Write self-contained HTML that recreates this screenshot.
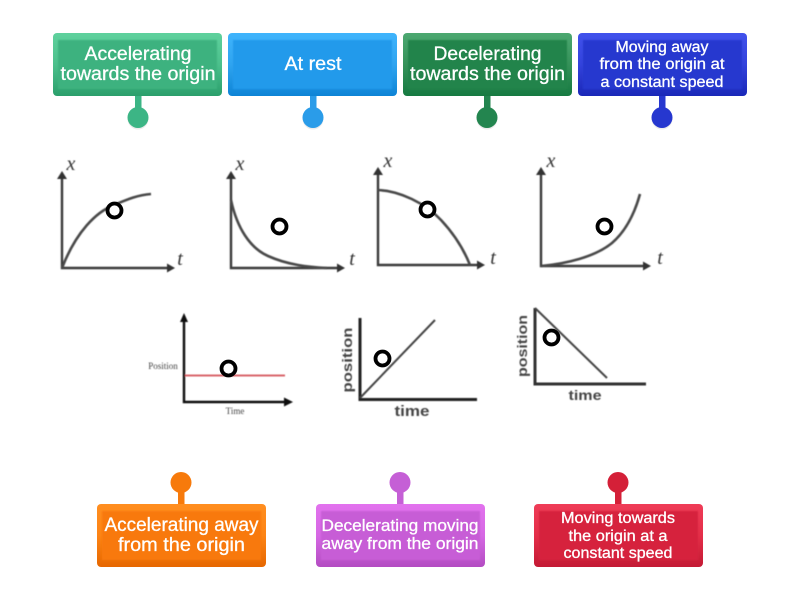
<!DOCTYPE html>
<html>
<head>
<meta charset="utf-8">
<style>
html,body{margin:0;padding:0;background:#fff;width:800px;height:600px;overflow:hidden}
svg{display:block}
.l{font-family:"Liberation Sans",sans-serif;fill:#fff;stroke:#fff;stroke-width:.3;text-anchor:middle}
.a{fill:none;stroke:#3a3a3a;stroke-width:2.400}
.c{fill:none;stroke:#4a4a4a;stroke-width:2.600}
.i{font-family:"Liberation Serif",serif;font-style:italic;font-size:20px;fill:#333;text-anchor:middle}
.m{fill:#fff;stroke:#000;stroke-width:3.800}
.k{font-family:"Liberation Sans",sans-serif;font-weight:bold;fill:#444;text-anchor:middle}
</style>
</head>
<body>
<svg width="800" height="600" viewBox="0 0 800 600" xmlns="http://www.w3.org/2000/svg">
<defs>
<filter id="b" x="-10%" y="-10%" width="120%" height="120%"><feGaussianBlur stdDeviation="0.55"/></filter>
<filter id="p" x="-5%" y="-10%" width="110%" height="120%"><feGaussianBlur stdDeviation="0.7"/></filter>
<filter id="t" x="-5%" y="-20%" width="110%" height="140%"><feGaussianBlur stdDeviation="0.25"/></filter>
<linearGradient id="g1o" x1="0" y1="0" x2="0" y2="1"><stop offset="0" stop-color="#5fd19d"/><stop offset=".5" stop-color="#4cc08c"/><stop offset="1" stop-color="#2b9f6c"/></linearGradient>
<linearGradient id="g2o" x1="0" y1="0" x2="0" y2="1"><stop offset="0" stop-color="#3fb4fc"/><stop offset=".5" stop-color="#2fa4f0"/><stop offset="1" stop-color="#0d84d6"/></linearGradient>
<linearGradient id="g3o" x1="0" y1="0" x2="0" y2="1"><stop offset="0" stop-color="#4ca871"/><stop offset=".5" stop-color="#359259"/><stop offset="1" stop-color="#167a41"/></linearGradient>
<linearGradient id="g4o" x1="0" y1="0" x2="0" y2="1"><stop offset="0" stop-color="#4152ec"/><stop offset=".5" stop-color="#3343dc"/><stop offset="1" stop-color="#1a28b8"/></linearGradient>
<linearGradient id="g5o" x1="0" y1="0" x2="0" y2="1"><stop offset="0" stop-color="#ff8e20"/><stop offset=".5" stop-color="#fd8415"/><stop offset="1" stop-color="#e66700"/></linearGradient>
<linearGradient id="g6o" x1="0" y1="0" x2="0" y2="1"><stop offset="0" stop-color="#e272ee"/><stop offset=".5" stop-color="#d668e4"/><stop offset="1" stop-color="#b34cc2"/></linearGradient>
<linearGradient id="g7o" x1="0" y1="0" x2="0" y2="1"><stop offset="0" stop-color="#ef3c57"/><stop offset=".5" stop-color="#e42e49"/><stop offset="1" stop-color="#c41a34"/></linearGradient>
</defs>

<!-- top pins -->
<circle cx="138" cy="119" r="10.500" fill="#ececec"/>
<circle cx="313" cy="119" r="10.500" fill="#ececec"/>
<circle cx="487" cy="119" r="10.500" fill="#ececec"/>
<circle cx="662" cy="119" r="10.500" fill="#ececec"/>
<rect x="135" y="94" width="6.500" height="16" fill="#3cb585"/><circle cx="138" cy="117.500" r="10.500" fill="#3cb585"/>
<rect x="310" y="94" width="6.500" height="16" fill="#2a9ce9"/><circle cx="313" cy="117.500" r="10.500" fill="#2a9ce9"/>
<rect x="484" y="94" width="6.500" height="16" fill="#23854f"/><circle cx="487" cy="117.500" r="10.500" fill="#23854f"/>
<rect x="659" y="94" width="6.500" height="16" fill="#2637cf"/><circle cx="662" cy="117.500" r="10.500" fill="#2637cf"/>

<!-- bottom pins -->
<rect x="178" y="490" width="6.500" height="16" fill="#f77a0b"/><circle cx="181" cy="482.500" r="10.500" fill="#f77a0b"/>
<rect x="397" y="490" width="6.500" height="16" fill="#c55fd6"/><circle cx="400" cy="482.500" r="10.500" fill="#c55fd6"/>
<rect x="615" y="490" width="6.500" height="16" fill="#d42038"/><circle cx="618" cy="482.500" r="10.500" fill="#d42038"/>

<!-- boxes -->
<rect x="53" y="33" width="169" height="63" rx="4" fill="url(#g1o)"/><rect x="58" y="40" width="159" height="49" fill="#3cb27f" filter="url(#p)"/>
<rect x="228" y="33" width="169" height="63" rx="4" fill="url(#g2o)"/><rect x="233" y="40" width="159" height="49" fill="#239aeb" filter="url(#p)"/>
<rect x="403" y="33" width="169" height="63" rx="4" fill="url(#g3o)"/><rect x="408" y="40" width="159" height="49" fill="#24844c" filter="url(#p)"/>
<rect x="578" y="33" width="169" height="63" rx="4" fill="url(#g4o)"/><rect x="583" y="40" width="159" height="49" fill="#2838cf" filter="url(#p)"/>
<rect x="97" y="504" width="169" height="63" rx="4" fill="url(#g5o)"/><rect x="102" y="511" width="159" height="49" fill="#f8790c" filter="url(#p)"/>
<rect x="316" y="504" width="169" height="63" rx="4" fill="url(#g6o)"/><rect x="321" y="511" width="159" height="49" fill="#c75dd6" filter="url(#p)"/>
<rect x="534" y="504" width="169" height="63" rx="4" fill="url(#g7o)"/><rect x="539" y="511" width="159" height="49" fill="#d6223d" filter="url(#p)"/>

<!-- labels -->
<g filter="url(#t)">
<text class="l" x="138" y="60" font-size="19" textLength="107" lengthAdjust="spacingAndGlyphs">Accelerating</text>
<text class="l" x="138" y="80" font-size="19" textLength="155" lengthAdjust="spacingAndGlyphs">towards the origin</text>
<text class="l" x="313" y="70" font-size="19" textLength="57" lengthAdjust="spacingAndGlyphs">At rest</text>
<text class="l" x="487.500" y="60" font-size="19" textLength="108" lengthAdjust="spacingAndGlyphs">Decelerating</text>
<text class="l" x="487.500" y="80" font-size="19" textLength="155" lengthAdjust="spacingAndGlyphs">towards the origin</text>
<text class="l" x="662" y="52" font-size="15.500" textLength="93" lengthAdjust="spacingAndGlyphs">Moving away</text>
<text class="l" x="662" y="69" font-size="15.500" textLength="125" lengthAdjust="spacingAndGlyphs">from the origin at</text>
<text class="l" x="662" y="87" font-size="15.500" textLength="123" lengthAdjust="spacingAndGlyphs">a constant speed</text>
<text class="l" x="181.500" y="531" font-size="19" textLength="154" lengthAdjust="spacingAndGlyphs">Accelerating away</text>
<text class="l" x="181.500" y="551" font-size="19" textLength="127" lengthAdjust="spacingAndGlyphs">from the origin</text>
<text class="l" x="400" y="531" font-size="17" textLength="157" lengthAdjust="spacingAndGlyphs">Decelerating moving</text>
<text class="l" x="400" y="549" font-size="17" textLength="157" lengthAdjust="spacingAndGlyphs">away from the origin</text>
<text class="l" x="618" y="523" font-size="15.500" textLength="114" lengthAdjust="spacingAndGlyphs">Moving towards</text>
<text class="l" x="618" y="541" font-size="15.500" textLength="99" lengthAdjust="spacingAndGlyphs">the origin at a</text>
<text class="l" x="618" y="558" font-size="15.500" textLength="109" lengthAdjust="spacingAndGlyphs">constant speed</text>
</g>

<!-- graphs -->
<g filter="url(#b)">
<!-- G1 -->
<path class="a" d="M62 176V268H170"/><path d="M62 171l-5 8h10zM175 268l-8-4.500v9z" fill="#333"/>
<path class="c" d="M62 268C76 232 96 212 114 205C128 199 138 195 151 194"/>
<text class="i" x="71" y="170">x</text><text class="i" x="180" y="265">t</text>
<!-- G2 -->
<path class="a" d="M231 176V268H340"/><path d="M231 171l-5 8h10zM345 268l-8-4.500v9z" fill="#333"/>
<path class="c" d="M231 200C237 228 250 248 268 256C288 265 308 267 327 268"/>
<text class="i" x="240" y="170">x</text><text class="i" x="352" y="265">t</text>
<!-- G3 -->
<path class="a" d="M378 172V265H480"/><path d="M378 167l-5 8h10zM485 265l-8-4.500v9z" fill="#333"/>
<path class="c" d="M378 190C400 191 425 203 441 220C455 235 464 250 470 265"/>
<text class="i" x="388" y="167">x</text><text class="i" x="493" y="264">t</text>
<!-- G4 -->
<path class="a" d="M541 172V266H646"/><path d="M541 167l-5 8h10zM651 266l-8-4.500v9z" fill="#333"/>
<path class="c" d="M541 266C565 264 595 257 612 243C626 231 635 212 640 194"/>
<text class="i" x="551" y="167">x</text><text class="i" x="660" y="264">t</text>
<!-- G5 -->
<path d="M184 318V402H288" fill="none" stroke="#111" stroke-width="2.400"/><path d="M184 313l-4 9h8zM293 402l-9-4.500v9z" fill="#111"/>
<line x1="185" y1="375.500" x2="285" y2="375.500" stroke="#d9656a" stroke-width="2"/>
<text x="163" y="369" font-family="Liberation Serif,serif" font-size="9" fill="#444" text-anchor="middle">Position</text>
<text x="235" y="414" font-family="Liberation Serif,serif" font-size="9" fill="#444" text-anchor="middle">Time</text>
<!-- G6 -->
<path d="M360 318V399.500H477" fill="none" stroke="#222" stroke-width="3"/>
<line x1="360" y1="398" x2="435" y2="320" stroke="#444" stroke-width="2"/>
<text class="k" x="0" y="0" font-size="14" textLength="65" lengthAdjust="spacingAndGlyphs" transform="translate(352,360) rotate(-90)">position</text>
<text class="k" x="412" y="416" font-size="15" textLength="35" lengthAdjust="spacingAndGlyphs">time</text>
<!-- G7 -->
<path d="M535 308V384H646" fill="none" stroke="#333" stroke-width="3"/>
<line x1="535" y1="308" x2="607" y2="378" stroke="#444" stroke-width="2"/>
<text class="k" x="0" y="0" font-size="13.500" textLength="62" lengthAdjust="spacingAndGlyphs" transform="translate(527,346) rotate(-90)">position</text>
<text class="k" x="585" y="400" font-size="14" textLength="33" lengthAdjust="spacingAndGlyphs">time</text>
</g>

<!-- markers -->
<circle class="m" cx="114.500" cy="210.500" r="7"/>
<circle class="m" cx="279.500" cy="226.500" r="7"/>
<circle class="m" cx="427.500" cy="209.500" r="7"/>
<circle class="m" cx="604.500" cy="226.500" r="7"/>
<circle class="m" cx="228.500" cy="368.500" r="7"/>
<circle class="m" cx="382.500" cy="358.500" r="7"/>
<circle class="m" cx="551.500" cy="337.500" r="7"/>
</svg>
</body>
</html>
